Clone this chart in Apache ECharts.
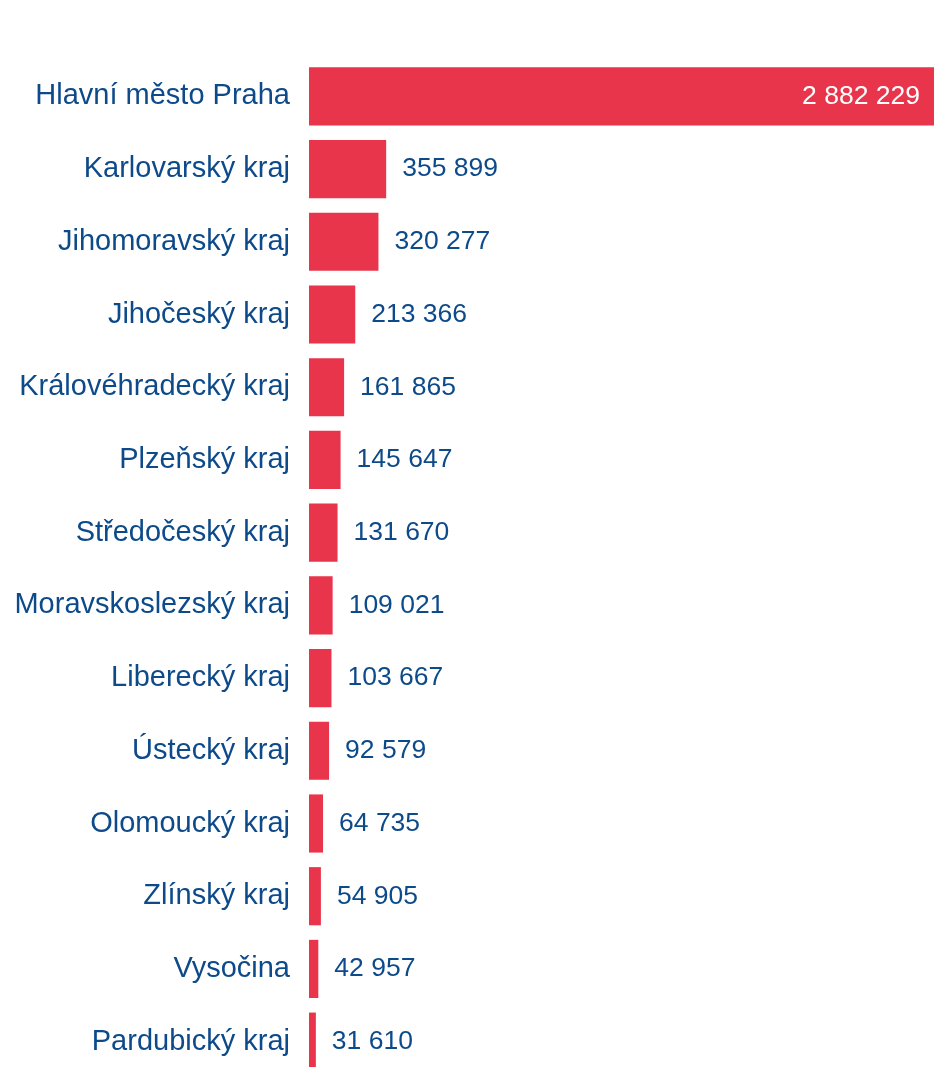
<!DOCTYPE html>
<html>
<head>
<meta charset="utf-8">
<script src="https://cdn.jsdelivr.net/npm/echarts@6/dist/echarts.min.js"></script>
<style>
html,body{margin:0;padding:0;background:#fff;}
#chart{width:934px;height:1067px;}
</style>
</head>
<body>
<div id="chart"></div>
<script>
const categories = [
  "Hlavní město Praha","Karlovarský kraj","Jihomoravský kraj","Jihočeský kraj",
  "Královéhradecký kraj","Plzeňský kraj","Středočeský kraj","Moravskoslezský kraj",
  "Liberecký kraj","Ústecký kraj","Olomoucký kraj","Zlínský kraj","Vysočina","Pardubický kraj"
];
const values = [2882229,355899,320277,213366,161865,145647,131670,109021,103667,92579,64735,54905,42957,31610];

function fmt(v){ return String(v).replace(/\B(?=(\d{3})+(?!\d))/g, ' '); }

const chart = echarts.init(document.getElementById('chart'));
const FONT = 'Arial';
chart.setOption({
  animation:false,
  grid:{left:309, top:60, right:0, bottom:-11, containLabel:false, outerBoundsMode:'none'},
  xAxis:{type:'value', min:0, max:2882229, show:false},
  yAxis:{
    type:'category', data:categories, inverse:true,
    axisLine:{show:false}, axisTick:{show:false},
    axisLabel:{color:'#0d4a8a', fontSize:29, fontFamily:FONT, margin:19}
  },
  series:[{
    type:'bar', barCategoryGap:'20%',
    data: values.map((v,i)=>({
      value:v,
      label: i===0 ? {position:'insideRight', color:'#fff', distance:14} : {}
    })),
    itemStyle:{color:'#e9354b'},
    label:{show:true, position:'right', distance:16, color:'#0d4a8a', fontSize:26.5, fontFamily:FONT,
      formatter:p=>fmt(p.value)}
  }]
});
</script>
</body>
</html>
